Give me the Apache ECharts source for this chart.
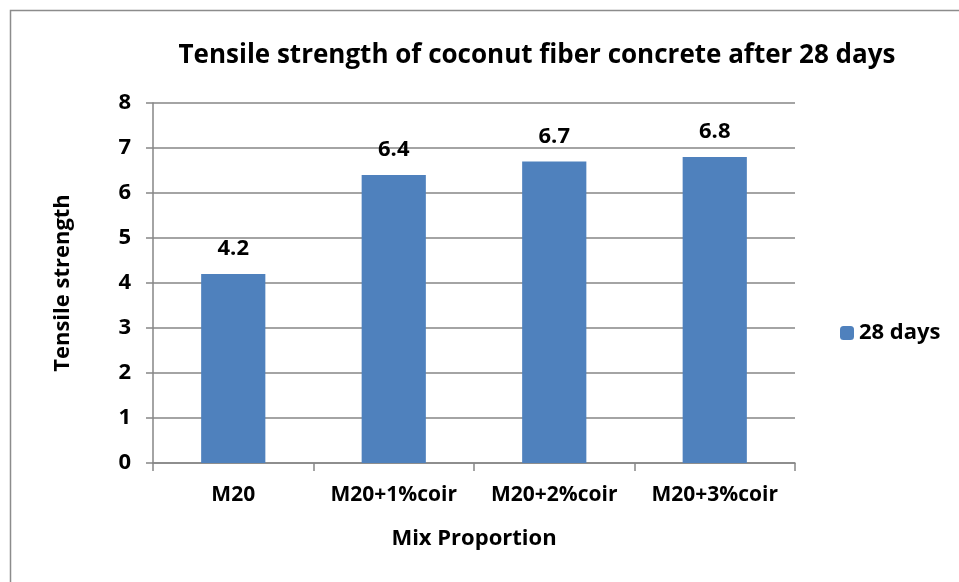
<!DOCTYPE html>
<html><head><meta charset="utf-8">
<script src="https://cdn.jsdelivr.net/npm/echarts@6/dist/echarts.min.js"></script>
<style>html,body{margin:0;padding:0;background:#fff}#c{width:959px;height:582px}</style>
</head><body><div id="c"></div>
<script>
const categories = ['M20', 'M20+1%coir', 'M20+2%coir', 'M20+3%coir'];
const values28 = [4.2, 6.4, 6.7, 6.8];
const seriesName = '28 days';
const yTicks = [0, 1, 2, 3, 4, 5, 6, 7, 8];

const FONT = '"Open Sans", "Noto Sans", sans-serif';
const FS = 22;
const chart = echarts.init(document.getElementById('c'), null, {renderer: 'canvas'});
chart.setOption({
  animation: false,
  backgroundColor: '#fff',
  graphic: [{type: 'rect', shape: {x: 10.5, y: 10.5, width: 1000, height: 1000}, style: {fill: 'none', stroke: '#8c8c8c', lineWidth: 1.5}, z: -1}],
  title: {text: 'Tensile strength of coconut fiber concrete after 28 days', left: 532, top: 38, textAlign: 'center',
    textStyle: {fontFamily: FONT, fontWeight: 'bold', fontSize: 26, color: '#000'}},
  legend: {data: [seriesName], left: 835, top: 317, itemWidth: 14, itemHeight: 14, itemGap: 5,
    textStyle: {fontFamily: FONT, fontWeight: 'bold', fontSize: FS, color: '#000'}},
  grid: {left: 153, right: 164, top: 103, bottom: 119, containLabel: false},
  xAxis: {type: 'category', data: categories,
    name: 'Mix Proportion', nameLocation: 'middle', nameGap: 65,
    nameTextStyle: {fontFamily: FONT, fontWeight: 'bold', fontSize: FS, color: '#000'},
    axisLine: {lineStyle: {color: '#868686', width: 1.5}},
    axisTick: {show: true, interval: 0, length: 8, lineStyle: {color: '#868686', width: 1.5}},
    axisLabel: {interval: 0, hideOverlap: false, fontFamily: FONT, fontWeight: 'bold', fontSize: 21, color: '#000', margin: 22}},
  yAxis: {type: 'value', min: 0, max: 8, interval: 1,
    name: 'Tensile strength', nameLocation: 'middle', nameGap: 79, nameRotate: 90,
    nameTextStyle: {fontFamily: FONT, fontWeight: 'bold', fontSize: FS, color: '#000'},
    axisLine: {show: true, lineStyle: {color: '#868686', width: 1.5}},
    axisTick: {show: true, length: 7, lineStyle: {color: '#868686', width: 1.5}},
    splitLine: {lineStyle: {color: '#868686', width: 1.5}},
    axisLabel: {fontFamily: FONT, fontWeight: 'bold', fontSize: FS, color: '#000', margin: 22,
      formatter: v => yTicks.includes(v) ? String(v) : ''}},
  series: [{name: seriesName, type: 'bar', data: values28, barWidth: '40%',
    itemStyle: {color: '#4f81bd'},
    label: {show: true, position: 'top', distance: 14, fontFamily: FONT, fontWeight: 'bold', fontSize: FS, color: '#000'}}]
});
</script></body></html>
